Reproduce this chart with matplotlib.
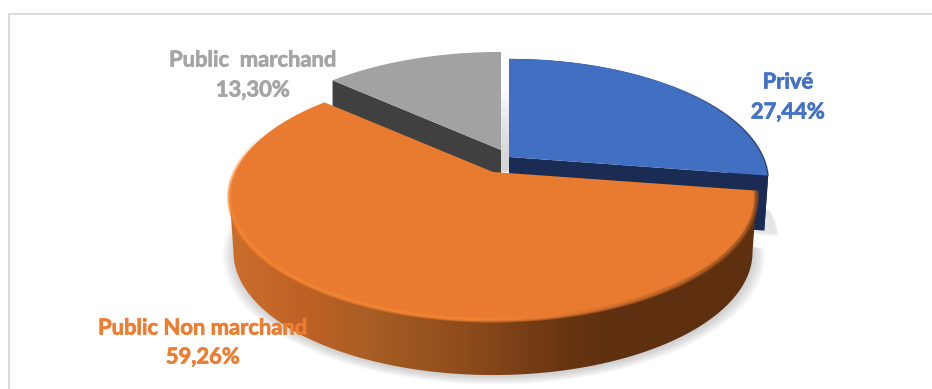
import numpy as np
import matplotlib
matplotlib.use("Agg")
import matplotlib.pyplot as plt
import matplotlib.patheffects as pe
from matplotlib.patches import Polygon, Rectangle
from matplotlib.collections import LineCollection
from matplotlib.colors import to_rgb

# Data
categories = ["Privé", "Public Non marchand", "Public  marchand"]
shares = [27.44, 59.26, 13.30]
share_labels = ["27,44%", "59,26%", "13,30%"]

TOP = ["#4170c2", "#e87b30", "#a2a2a2"]
WALL = ["#1a2c54", "#5e3010", "#404040"]
TEXT = ["#4472c4", "#ed7d31", "#a5a5a5"]
FRAME = "#d9d9d9"

# Perspective of the disc
F, G, K = 258.0, 118.0, 0.203
DEPTH = 55.0
NARROW = 0.985
APEX = [(509, 157), (493, 172), (501, 150)]
SLICE_WIDTH = [0.985, 1.0, 1.0]

fractions = np.array(shares) / sum(shares)
bounds = np.concatenate([[0], np.cumsum(fractions)])


def project(frac, apex, width=1.0):
    t = 2 * np.pi * np.asarray(frac)
    u, v = np.sin(t), np.cos(t)
    w = 1 + K * v
    return apex[0] + width * F * u / w, apex[1] - G * v / w


def rim(i, n=240):
    return project(np.linspace(bounds[i], bounds[i + 1], n), APEX[i], SLICE_WIDTH[i])


def lower(x, y, apex_x):
    return apex_x + (np.asarray(x) - apex_x) * NARROW, np.asarray(y) + DEPTH


def ramp(x, stops):
    xs = [s[0] for s in stops]
    cols = np.array([to_rgb(s[1]) for s in stops])
    return np.column_stack([np.interp(x, xs, cols[:, c]) for c in range(3)])


fig = plt.figure(figsize=(9.32, 3.89), dpi=100)
ax = fig.add_axes([0, 0, 1, 1])
ax.set_xlim(0, 932)
ax.set_ylim(389, 0)
ax.axis("off")

# Chart frame, running off the right and bottom edges
ax.plot([9, 9, 932], [389, 14, 14], color=FRAME, lw=1.3, zorder=0, solid_joinstyle="miter")

# Soft shadow under the disc
ox, oy = rim(1)
bx, by = lower(ox, oy, APEX[1][0])
cx, cy = APEX[1][0], APEX[1][1] + 40
for spread in np.linspace(1.0, 1.045, 9):
    ax.add_patch(Polygon(np.column_stack([cx + (bx - cx) * spread + 1, cy + (by - cy) * spread + 2]),
                         closed=True, fc="#808080", ec="none", alpha=0.045, zorder=1))
blue_x, blue_y = rim(0)
sx = np.concatenate([[APEX[0][0]], blue_x[-30:]]) + 8
sy = np.concatenate([[APEX[0][1]], blue_y[-30:]]) + DEPTH + 3
for spread in range(4):
    ax.add_patch(Polygon(np.column_stack([sx + spread, sy + spread]), closed=True,
                         fc="#808080", ec="none", alpha=0.05, zorder=1))

# Light shading in the gap between the grey and blue slices
for top in np.linspace(92, 160, 10):
    ax.add_patch(Rectangle((501, top), 8, 172 - top, fc="#c8c8c8", ec="none", alpha=0.11, zorder=1.5))

# Private slice: side wall, then face
x, y = rim(0)
lx, ly = lower(x, y, APEX[0][0])
ax.add_patch(Polygon(np.column_stack([np.r_[x, lx[::-1]], np.r_[y, ly[::-1]]]),
                     fc="#17305e", ec="none", zorder=2))
a = APEX[0]
ax.add_patch(Polygon([a, (x[-1], y[-1]), (lx[-1], ly[-1]), (a[0], a[1] + DEPTH)],
                     fc=WALL[0], ec="none", zorder=2.1))
ax.add_patch(Polygon(np.column_stack([np.r_[a[0], x], np.r_[a[1], y]]),
                     fc=TOP[0], ec="none", zorder=2.2))
edge = np.column_stack([x, y])
pairs = np.stack([edge[:-1], edge[1:]], axis=1)
fade = np.clip((x[:-1] - 660) / 110, 0.03, 0.8)
ax.add_collection(LineCollection(pairs, colors=[(0.1, 0.17, 0.33, f) for f in fade], lw=1.0, zorder=2.3))

# Public marchand slice: cut wall, then face
x, y = rim(2)
a = APEX[2]
ax.add_patch(Polygon([a, (x[0], y[0]), (x[0], y[0] + DEPTH), (a[0], a[1] + DEPTH)],
                     fc=WALL[2], ec="none", zorder=3))
ax.add_patch(Polygon(np.column_stack([np.r_[a[0], x], np.r_[a[1], y]]),
                     fc=TOP[2], ec="none", zorder=3.1))

# Public non marchand slice: outer wall shaded left to right, between the
# two points where the rim turns back on itself
x, y = rim(1, 600)
lx, ly = lower(x, y, APEX[1][0])
right_i, left_i = int(np.argmax(x)), int(np.argmin(x))
front = np.arange(right_i, left_i + 1)
wall_stops = [(229, "#cc6f2c"), (300, "#c06226"), (370, "#a85e24"), (466, "#8e4b1b"),
              (560, "#6a3612"), (610, "#5e3010"), (760, "#5e3010")]
columns = np.arange(220, 770)
shading = ramp(columns, wall_stops)[np.newaxis, :, :]
wall_shape = Polygon(np.column_stack([np.r_[x[front], lx[front][::-1]], np.r_[y[front], ly[front][::-1]]]),
                     fc="none", ec="none", transform=ax.transData)
ax.add_patch(wall_shape)
wall_img = ax.imshow(shading, extent=(220, 770, 400, 100), aspect="auto",
                     interpolation="bilinear", zorder=4)
wall_img.set_clip_path(wall_shape)
ax.set_xlim(0, 932)
ax.set_ylim(389, 0)

# Its face and the bevel along the rim
a = APEX[1]
ax.add_patch(Polygon(np.column_stack([np.r_[a[0], x], np.r_[a[1], y]]),
                     fc=TOP[1], ec="none", zorder=4.5))
edge = np.column_stack([x, y])
pairs = np.stack([edge[:-1], edge[1:]], axis=1)
bevel_stops = [(229, "#f68632"), (470, "#f68632"), (540, "#e87b30"), (640, "#c9692a"),
               (760, "#8a4a1c")]
mid_x = (pairs[:, 0, 0] + pairs[:, 1, 0]) / 2
mid_y = (pairs[:, 0, 1] + pairs[:, 1, 1]) / 2
bevel = ramp(mid_x, bevel_stops)
reach = np.clip((mid_y - 135) / 60, 0, 1)
for width, alpha in ((3.6, 0.45), (2.2, 0.7)):
    ax.add_collection(LineCollection(pairs, colors=np.c_[bevel, alpha * reach],
                                     lw=width, zorder=4.6, capstyle="butt"))

# Labels
label_spots = [(788, 82, 112), (203, 328, 357), (253, 60, 90)]
for name, pct, col, (tx, y1, y2) in zip(categories, share_labels, TEXT, label_spots):
    for text, ty in ((name, y1), (pct, y2)):
        ax.text(tx, ty, text, color=col, ha="center", va="center", fontsize=15.8,
                fontweight="bold", family="Lato", zorder=6,
                path_effects=[pe.withStroke(linewidth=0.5, foreground=col)])

fig.savefig("out.png", dpi=100, facecolor="white")
